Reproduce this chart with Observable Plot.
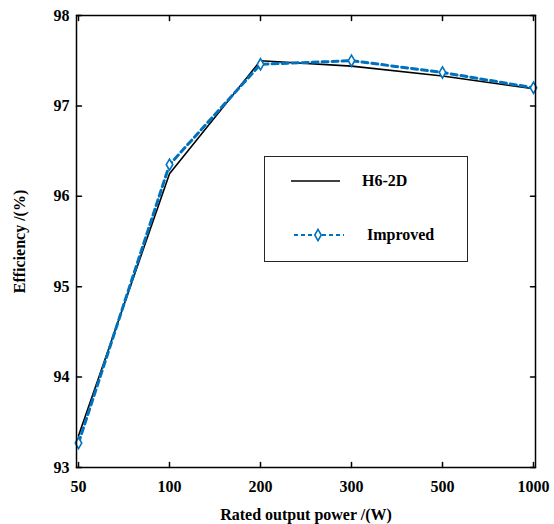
<!DOCTYPE html>
<html>
<head>
<meta charset="utf-8">
<script src="https://cdn.jsdelivr.net/npm/d3@7"></script>
<script src="https://cdn.jsdelivr.net/npm/@observablehq/plot@0.6"></script>
<style>
  html, body { margin: 0; padding: 0; background: #fff; }
  #wrap { position: relative; width: 554px; height: 524px; font-family: "Liberation Serif", "Times New Roman", serif; }
  #legend { position: absolute; left: 264px; top: 156px; width: 202px; height: 104px; border: 1.5px solid #262626; background: #fff; box-sizing: content-box; }
  #legend svg { position: absolute; left: 0; top: 0; }
  svg { overflow: visible; }
</style>
</head>
<body>
<div id="wrap"></div>
<script>
const categories = ["50", "100", "200", "300", "500", "1000"];
const h62d = [93.35, 96.25, 97.50, 97.44, 97.33, 97.19];
const improved = [93.27, 96.35, 97.46, 97.50, 97.37, 97.20];
const yTicks = [93, 94, 95, 96, 97, 98];
const seriesNames = ["H6-2D", "Improved"];

const blue = "#0072BD";
const font = "Liberation Serif";

const dataA = categories.map((c, i) => ({x: c, y: h62d[i]}));
const dataB = categories.map((c, i) => ({x: c, y: improved[i]}));

const W = 554, H = 524, mL = 76, mR = 19, mT = 15, mB = 57, tk = 5;

const tickShape = {draw(context, l) { context.moveTo(0, 0); context.lineTo(0, -l); }};
const tickOpts = {length: tk, anchor: "start", shape: tickShape, stroke: "#000", strokeWidth: 1.5};

const chart = Plot.plot({
  width: W,
  height: H,
  marginLeft: mL,
  marginRight: mR,
  marginTop: mT,
  marginBottom: mB,
  style: {fontFamily: font, fontSize: "16px", fontWeight: "bold", color: "#000", background: "#fff"},
  x: {type: "point", domain: categories, padding: 0},
  y: {domain: [93, 98]},
  marks: [
    Plot.line(dataA, {x: "x", y: "y", stroke: "#000", strokeWidth: 1.6}),
    Plot.line(dataB, {x: "x", y: "y", stroke: blue, strokeWidth: 3, strokeDasharray: "6,4"}),
    Plot.dot(dataB, {x: "x", y: "y", symbol: "diamond", r: 3.4, stroke: blue, fill: "#fff", strokeWidth: 1.6}),
    Plot.frame({stroke: "#000", strokeWidth: 1.5}),
    Plot.vector(categories, {x: d => d, frameAnchor: "bottom", rotate: 0, ...tickOpts}),
    Plot.vector(categories, {x: d => d, frameAnchor: "top", rotate: 180, ...tickOpts}),
    Plot.vector(yTicks, {y: d => d, frameAnchor: "left", rotate: 90, ...tickOpts}),
    Plot.vector(yTicks, {y: d => d, frameAnchor: "right", rotate: -90, ...tickOpts}),
    Plot.axisX({anchor: "bottom", tickSize: 0, tickPadding: 13, fontSize: 16, fontWeight: "bold",
      label: "Rated output power /(W)", labelAnchor: "center", labelArrow: "none", labelOffset: 52}),
    Plot.axisY({anchor: "left", ticks: yTicks, tickFormat: "d", tickSize: 0, tickPadding: 7, fontSize: 16, fontWeight: "bold",
      label: "Efficiency /(%)", labelAnchor: "center", labelArrow: "none", labelOffset: 63})
  ]
});

const wrap = document.getElementById("wrap");
wrap.appendChild(chart);

const legend = document.createElement("div");
legend.id = "legend";
legend.innerHTML = `
<svg width="202" height="104" xmlns="http://www.w3.org/2000/svg" font-family="${font}" font-weight="bold" font-size="16">
  <line x1="26" x2="75" y1="24" y2="24" stroke="#000" stroke-width="1.6"/>
  <text x="97" y="29" fill="#000">${seriesNames[0]}</text>
  <line x1="29" x2="79" y1="78" y2="78" stroke="${blue}" stroke-width="2" stroke-dasharray="4,3"/>
  <path d="${d3.symbol(d3.symbolDiamond, Math.PI * 3.4 * 3.4)()}" transform="translate(53,78)" fill="#fff" stroke="${blue}" stroke-width="1.6"/>
  <text x="102" y="83" fill="#000">${seriesNames[1]}</text>
</svg>`;
wrap.appendChild(legend);
</script>
</body>
</html>
